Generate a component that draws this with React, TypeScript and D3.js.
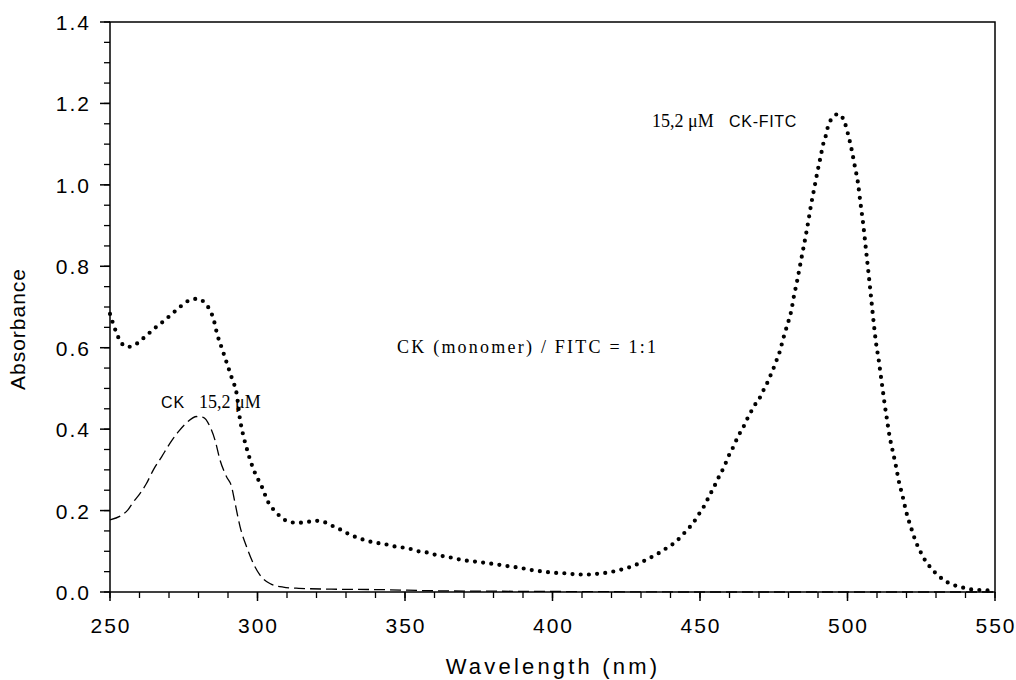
import React, { useEffect, useRef } from "react";
import * as d3 from "d3";

const ckFitcWavelength = [250, 252, 254, 256, 258, 260.6, 263.3, 266, 268.3, 271, 273.7, 276.5, 279.5, 282.2, 284, 285, 286.3, 288, 289.7, 291.4, 293, 294, 295, 296.3, 298, 299, 301.5, 303.6, 305.6, 308, 310.7, 313.7, 316.8, 319.5, 322.5, 325.5, 328.5, 331, 334, 337, 340, 343, 345.6, 348.6, 351.7, 354.6, 357.5, 360, 363, 366, 369, 372, 374.6, 377.7, 380.7, 383.5, 386.5, 389.3, 392, 395, 398, 401, 404, 407, 410, 412.5, 415.5, 418, 421, 424.2, 427.4, 430.1, 433.1, 435.9, 438.7, 441.9, 444.3, 446.6, 448.6, 450.3, 451.9, 453.1, 454.6, 455.7, 457.1, 458.4, 459.5, 460.8, 462, 463.2, 464.7, 466, 467.4, 469, 470.6, 471.8, 473.1, 474.3, 475.4, 476.3, 477.2, 477.9, 478.6, 479.4, 480.2, 480.9, 481.8, 482.9, 483.9, 484.9, 485.9, 486.8, 487.7, 488.7, 489.7, 490.8, 491.9, 492.7, 493.3, 494.4, 496.9, 498.8, 500.3, 501.5, 502.5, 503.5, 504.4, 505.3, 506.2, 507.1, 508, 508.9, 509.8, 510.5, 511.2, 511.9, 512.6, 513.4, 514.2, 515.3, 516.4, 517.4, 518.7, 519.9, 521.5, 523.3, 524.6, 525.8, 527.6, 529.8, 532.7, 535.7, 538.5, 541.3, 544.3, 547.2, 550];
const ckFitcAbsorbance = [0.683, 0.64, 0.61, 0.602, 0.605, 0.619, 0.636, 0.653, 0.666, 0.683, 0.7, 0.715, 0.72, 0.71, 0.69, 0.673, 0.634, 0.597, 0.56, 0.523, 0.484, 0.427, 0.39, 0.354, 0.314, 0.295, 0.258, 0.221, 0.201, 0.184, 0.172, 0.17, 0.172, 0.175, 0.172, 0.162, 0.152, 0.142, 0.133, 0.126, 0.121, 0.118, 0.113, 0.11, 0.106, 0.1, 0.097, 0.092, 0.088, 0.084, 0.079, 0.076, 0.074, 0.071, 0.068, 0.065, 0.062, 0.059, 0.055, 0.052, 0.049, 0.047, 0.046, 0.044, 0.043, 0.043, 0.045, 0.047, 0.051, 0.057, 0.064, 0.073, 0.084, 0.095, 0.108, 0.124, 0.142, 0.16, 0.179, 0.199, 0.217, 0.236, 0.255, 0.273, 0.292, 0.311, 0.331, 0.349, 0.368, 0.386, 0.405, 0.425, 0.444, 0.464, 0.481, 0.5, 0.518, 0.539, 0.558, 0.576, 0.594, 0.614, 0.632, 0.651, 0.67, 0.689, 0.725, 0.763, 0.801, 0.839, 0.877, 0.914, 0.953, 0.99, 1.028, 1.066, 1.104, 1.122, 1.141, 1.16, 1.174, 1.158, 1.121, 1.083, 1.045, 1.007, 0.955, 0.905, 0.845, 0.785, 0.723, 0.66, 0.605, 0.574, 0.536, 0.499, 0.461, 0.423, 0.385, 0.347, 0.31, 0.272, 0.235, 0.197, 0.159, 0.121, 0.101, 0.084, 0.065, 0.047, 0.029, 0.018, 0.012, 0.007, 0.005, 0.004, 0.002];

const ckWavelength = [250, 256, 258, 260.2, 262.4, 264.7, 267.5, 270.3, 273.2, 276, 279.4, 281.6, 283.9, 285.6, 287.3, 289.5, 291.2, 292.4, 294.1, 296.3, 298.6, 300.8, 304.2, 308.7, 314, 325, 340, 360, 380, 410, 450, 550];
const ckAbsorbance = [0.177, 0.201, 0.222, 0.242, 0.267, 0.3, 0.332, 0.365, 0.394, 0.416, 0.431, 0.429, 0.406, 0.373, 0.324, 0.283, 0.259, 0.218, 0.16, 0.111, 0.07, 0.042, 0.021, 0.012, 0.009, 0.007, 0.006, 0.003, 0.002, 0.001, 0, 0];

const xTicks = [250, 300, 350, 400, 450, 500, 550];
const yTicks = [0, 0.2, 0.4, 0.6, 0.8, 1.0, 1.2, 1.4];

const W = 1016, H = 680;
const X0 = 110, X1 = 995, Y0 = 592, Y1 = 22;

export default function App() {
  const ref = useRef<SVGSVGElement>(null);
  useEffect(() => {
    const svg = d3.select(ref.current);
    svg.selectAll("*").remove();
    const x = d3.scaleLinear().domain([250, 550]).range([X0, X1]);
    const y = d3.scaleLinear().domain([0, 1.4]).range([Y0, Y1]);
    const sans = "'Liberation Sans', Arial, sans-serif";
    const serif = "'Liberation Serif', 'Times New Roman', serif";

    // frame
    svg.append("rect").attr("x", X0).attr("y", Y1).attr("width", X1 - X0).attr("height", Y0 - Y1)
      .attr("fill", "none").attr("stroke", "#000").attr("stroke-width", 1.5);

    // minor ticks
    const yMinor = d3.range(0, 1.4001, 0.05);
    yMinor.forEach((v) => {
      svg.append("line").attr("x1", X0 - 6).attr("x2", X0).attr("y1", y(v)).attr("y2", y(v))
        .attr("stroke", "#000").attr("stroke-width", 1.3);
    });
    const xMinor = d3.range(250, 550.01, 10);
    xMinor.forEach((v) => {
      svg.append("line").attr("x1", x(v)).attr("x2", x(v)).attr("y1", Y0).attr("y2", Y0 + 6)
        .attr("stroke", "#000").attr("stroke-width", 1.3);
    });
    yTicks.forEach((v) => {
      svg.append("line").attr("x1", X0 - 10).attr("x2", X0).attr("y1", y(v)).attr("y2", y(v))
        .attr("stroke", "#000").attr("stroke-width", 1.5);
      svg.append("text").attr("x", 91).attr("y", y(v) + 8).attr("text-anchor", "end")
        .attr("font-family", sans).attr("font-size", 21).attr("letter-spacing", 2).text(v.toFixed(1));
    });
    xTicks.forEach((v) => {
      svg.append("line").attr("x1", x(v)).attr("x2", x(v)).attr("y1", Y0).attr("y2", Y0 + 9)
        .attr("stroke", "#000").attr("stroke-width", 1.5);
      svg.append("text").attr("x", x(v) + 1).attr("y", 633).attr("text-anchor", "middle")
        .attr("font-family", sans).attr("font-size", 21).attr("letter-spacing", 2).text(String(v));
    });

    // axis titles
    svg.append("text").attr("x", 553).attr("y", 674).attr("text-anchor", "middle")
      .attr("font-family", sans).attr("font-size", 22).attr("letter-spacing", 3.2).text("Wavelength (nm)");
    svg.append("text").attr("transform", `translate(25, ${329}) rotate(-90)`).attr("text-anchor", "middle")
      .attr("font-family", sans).attr("font-size", 21).attr("letter-spacing", 1).text("Absorbance");

    // curves
    const line = d3.line<[number, number]>().x((d) => x(d[0])).y((d) => y(d[1])).curve(d3.curveMonotoneX);
    const ckData: [number, number][] = ckWavelength.map((w, i) => [w, ckAbsorbance[i]]);
    const fitcData: [number, number][] = ckFitcWavelength.map((w, i) => [w, ckFitcAbsorbance[i]]);
    svg.append("path").attr("d", line(ckData)).attr("fill", "none").attr("stroke", "#000")
      .attr("stroke-width", 1.3).attr("stroke-dasharray", "11 5");
    svg.append("path").attr("d", line(fitcData)).attr("fill", "none").attr("stroke", "#000")
      .attr("stroke-width", 4.2).attr("stroke-linecap", "round").attr("stroke-dasharray", "0 8.2");

    // annotations
    svg.append("text").attr("x", 652).attr("y", 127).attr("font-family", serif).attr("font-size", 18)
      .text("15,2 \u03bcM");
    svg.append("text").attr("x", 729).attr("y", 127).attr("font-family", sans).attr("font-size", 16)
      .attr("letter-spacing", 0.7).text("CK-FITC");

    svg.append("text").attr("x", 397).attr("y", 353).attr("font-family", serif).attr("font-size", 18)
      .attr("textLength", 259).attr("lengthAdjust", "spacing").text("CK (monomer) / FITC = 1:1");

    svg.append("text").attr("x", 161).attr("y", 408).attr("font-family", sans).attr("font-size", 16)
      .attr("letter-spacing", 1).text("CK");
    svg.append("text").attr("x", 199).attr("y", 408).attr("font-family", serif).attr("font-size", 18)
      .text("15,2 \u03bcM");
  }, []);
  return <svg ref={ref} width={W} height={H} style={{ position: "absolute", left: 0, top: 0, background: "#fff" }} />;
}
